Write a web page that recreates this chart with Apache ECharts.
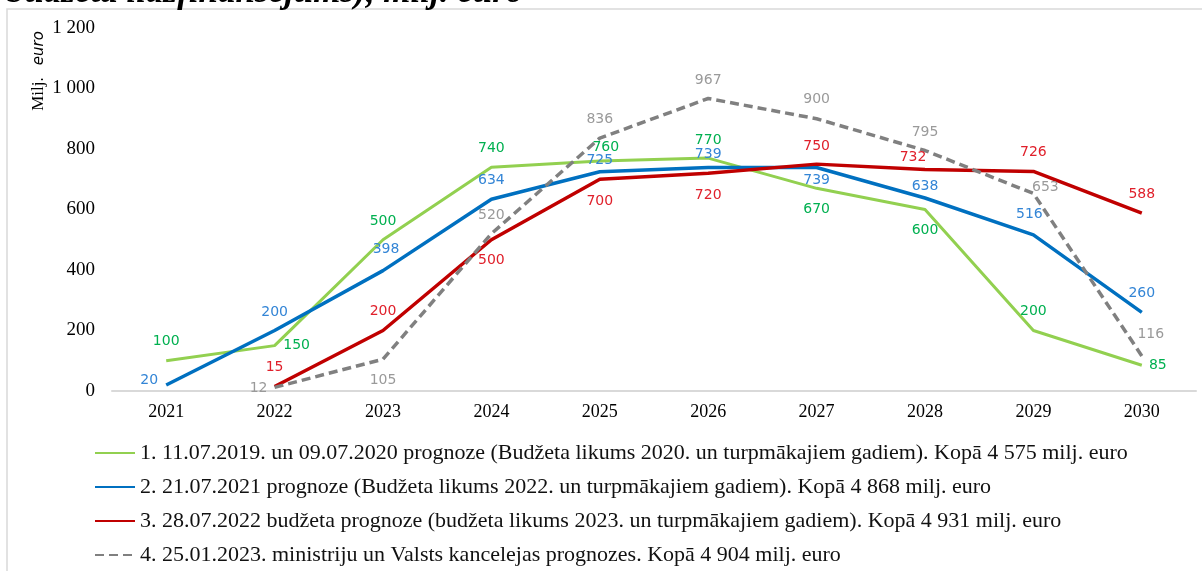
<!DOCTYPE html>
<html>
<head>
<meta charset="utf-8">
<script src="https://cdn.jsdelivr.net/npm/echarts@6/dist/echarts.min.js"></script>
<style>
  html, body { margin: 0; padding: 0; background: #fff; }
  #chart { width: 1202px; height: 571px; }
</style>
</head>
<body>
<div id="chart"></div>
<script>
// data
const years = ['2021', '2022', '2023', '2024', '2025', '2026', '2027', '2028', '2029', '2030']
const prognoze1 = [100, 150, 500, 740, 760, 770, 670, 600, 200, 85]
const prognoze2 = [20, 200, 398, 634, 725, 739, 739, 638, 516, 260]
const prognoze3 = [null, 15, 200, 500, 700, 720, 750, 732, 726, 588]
const prognoze4 = [null, 12, 105, 520, 836, 967, 900, 795, 653, 116]
const seriesNames = [
  '1. 11.07.2019. un 09.07.2020 prognoze (Budžeta likums 2020. un turpmākajiem gadiem). Kopā 4 575 milj. euro',
  '2. 21.07.2021 prognoze (Budžeta likums 2022. un turpmākajiem gadiem). Kopā 4 868 milj. euro',
  '3. 28.07.2022 budžeta prognoze (budžeta likums 2023. un turpmākajiem gadiem). Kopā 4 931 milj. euro',
  '4. 25.01.2023. ministriju un Valsts kancelejas prognozes. Kopā 4 904 milj. euro'
]

// label offsets from the point (styling only)
const offs1 = [[0, -19], [22, 0], [0, -18], [0, -19], [6, -14], [0, -18], [0, 21], [0, 21], [0, -19], [16, 0]]
const offs2 = [[-17, -5], [0, -18], [3, -21], [0, -19], [0, -11], [0, -13], [0, 13], [0, -12], [-4, -21], [0, -19]]
const offs3 = [[0, 0], [0, -19], [0, -19], [0, 21], [0, 22], [0, 22], [0, -18], [-12, -12], [0, -19], [0, -19]]
const offs4 = [[0, 0], [-16, 1], [0, 21], [0, -18], [0, -19], [0, -18], [0, -19], [0, -18], [12, -6], [9, -22]]

function buildData (values, offs) {
  return values.map(function (v, i) {
    if (v === null) return '-'
    return { value: v, label: { offset: offs[i] } }
  })
}

function lineSeries (name, values, offs, lineColor, labelColor, lineType, width) {
  return {
    name: name,
    type: 'line',
    data: buildData(values, offs),
    symbol: 'circle',
    symbolSize: 0,
    showSymbol: true,
    showAllSymbol: true,
    connectNulls: false,
    lineStyle: { color: lineColor, width: width, type: lineType },
    itemStyle: { color: lineColor },
    label: {
      show: true,
      position: 'inside',
      color: labelColor,
      fontFamily: 'DejaVu Sans',
      fontSize: 14
    },
    emphasis: { disabled: true },
    animation: false
  }
}

const chart = echarts.init(document.getElementById('chart'))

chart.setOption({
  backgroundColor: '#fff',
  graphic: [
    {
      type: 'text',
      left: 7,
      top: -25,
      style: {
        text: 'budžeta līdzfinansējums), milj. euro',
        font: 'italic bold 35px "Liberation Serif"',
        fill: '#000'
      }
    },
    {
      type: 'rect',
      shape: { x: 7, y: 9, width: 1200, height: 570 },
      style: { fill: 'none', stroke: '#d9d9d9', lineWidth: 1.5 },
      z: -1
    },
    {
      type: 'text',
      x: 39,
      y: 71,
      rotation: Math.PI / 2,
      style: {
        text: '{a|Milj.}{s| }{b|euro}',
        align: 'center',
        verticalAlign: 'middle',
        rich: {
          a: { fontFamily: 'Liberation Serif', fontSize: 17, fill: '#000' },
          s: { fontSize: 17, width: 12 },
          b: { fontFamily: 'DejaVu Sans', fontStyle: 'italic', fontSize: 15, fill: '#000' }
        }
      }
    }
  ],
  grid: {
    left: 112,
    right: 6,
    top: 28,
    bottom: 180
  },
  legend: {
    orient: 'vertical',
    left: 94,
    top: 442,
    padding: 0,
    itemWidth: 40,
    itemHeight: 14,
    itemGap: 12,
    itemStyle: { opacity: 0 },
    textStyle: {
      fontFamily: 'Liberation Serif',
      fontSize: 22,
      lineHeight: 22,
      color: '#111'
    },
    data: seriesNames
  },
  xAxis: {
    type: 'category',
    data: years,
    boundaryGap: true,
    axisLine: { lineStyle: { color: '#d9d9d9', width: 2 } },
    axisTick: { show: false },
    axisLabel: {
      margin: 12,
      fontFamily: 'Liberation Serif',
      fontSize: 18,
      color: '#000'
    }
  },
  yAxis: {
    type: 'value',
    min: 0,
    max: 1200,
    interval: 200,
    splitLine: { show: false },
    axisLine: { show: false },
    axisTick: { show: false },
    axisLabel: {
      margin: 17,
      fontFamily: 'Liberation Serif',
      fontSize: 19,
      color: '#000',
      formatter: function (v) {
        return String(v).replace(/\B(?=(\d{3})+(?!\d))/g, ' ')
      }
    }
  },
  series: [
    lineSeries(seriesNames[0], prognoze1, offs1, '#92d050', '#00b050', 'solid', 3),
    lineSeries(seriesNames[1], prognoze2, offs2, '#0070c0', '#3385d6', 'solid', 3.5),
    lineSeries(seriesNames[2], prognoze3, offs3, '#c00000', '#e0202b', 'solid', 3.5),
    lineSeries(seriesNames[3], prognoze4, offs4, '#808080', '#9a9a9a', [9, 5], 3.5)
  ]
})
</script>
</body>
</html>
